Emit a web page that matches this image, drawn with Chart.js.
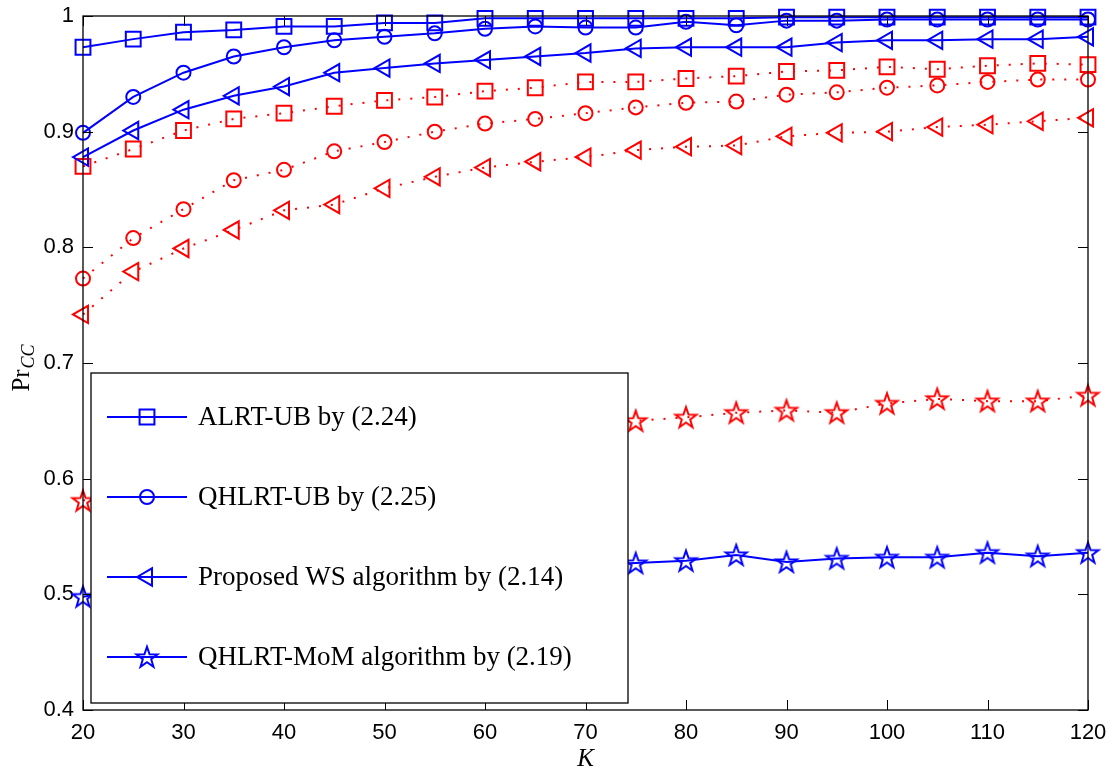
<!DOCTYPE html>
<html>
<head>
<meta charset="utf-8">
<script src="https://cdn.jsdelivr.net/npm/chart.js@4/dist/chart.umd.min.js"></script>
<style>
html, body { margin: 0; padding: 0; background: #fff; }
</style>
</head>
<body>
<canvas id="chart" width="1119" height="774"></canvas>
<script>
// K values and the eight curves
const K = [20, 25, 30, 35, 40, 45, 50, 55, 60, 65, 70, 75, 80, 85, 90, 95, 100, 105, 110, 115, 120];

const alrtUB     = [0.973, 0.980, 0.986, 0.988, 0.991, 0.991, 0.994, 0.994, 0.998, 0.998, 0.998, 0.998, 0.998, 0.998, 0.999, 0.999, 0.999, 0.999, 0.999, 0.999, 0.999];
const qhlrtUB    = [0.899, 0.930, 0.951, 0.965, 0.973, 0.979, 0.982, 0.985, 0.989, 0.991, 0.990, 0.990, 0.995, 0.992, 0.996, 0.996, 0.997, 0.997, 0.997, 0.997, 0.997];
const wsBlue     = [0.878, 0.901, 0.919, 0.931, 0.939, 0.951, 0.955, 0.959, 0.962, 0.965, 0.968, 0.972, 0.973, 0.973, 0.973, 0.977, 0.979, 0.979, 0.980, 0.980, 0.982];
const momBlue    = [0.498, 0.505, 0.510, 0.513, 0.516, 0.518, 0.520, 0.522, 0.523, 0.524, 0.525, 0.527, 0.529, 0.534, 0.528, 0.531, 0.532, 0.532, 0.536, 0.533, 0.536];

const alrtRed    = [0.870, 0.885, 0.901, 0.911, 0.916, 0.922, 0.927, 0.930, 0.935, 0.938, 0.943, 0.943, 0.946, 0.948, 0.952, 0.953, 0.956, 0.954, 0.957, 0.959, 0.958];
const qhlrtRed   = [0.773, 0.808, 0.833, 0.858, 0.867, 0.883, 0.891, 0.900, 0.907, 0.911, 0.916, 0.921, 0.925, 0.926, 0.932, 0.934, 0.938, 0.940, 0.943, 0.945, 0.945];
const wsRed      = [0.742, 0.779, 0.799, 0.815, 0.832, 0.837, 0.851, 0.861, 0.869, 0.874, 0.878, 0.884, 0.887, 0.888, 0.896, 0.899, 0.900, 0.904, 0.906, 0.909, 0.912];
const momRed     = [0.581, 0.595, 0.606, 0.615, 0.622, 0.628, 0.633, 0.637, 0.641, 0.644, 0.647, 0.650, 0.653, 0.657, 0.659, 0.657, 0.665, 0.669, 0.667, 0.667, 0.672];

const xTicks = [20, 30, 40, 50, 60, 70, 80, 90, 100, 110, 120];
const yTicks = [0.4, 0.5, 0.6, 0.7, 0.8, 0.9, 1];
const legendLabels = ['ALRT-UB by (2.24)', 'QHLRT-UB by (2.25)', 'Proposed WS algorithm by (2.14)', 'QHLRT-MoM algorithm by (2.19)'];

const BLUE = '#0000ff';
const RED = '#ff0000';

function makeStar(color, R) {
    const s = Math.ceil(R * 2 + 6);
    const cv = document.createElement('canvas');
    cv.width = s; cv.height = s;
    const c = cv.getContext('2d');
    c.translate(s / 2, s / 2 + R * 0.08);
    c.beginPath();
    for (let i = 0; i < 10; i++) {
        const rr = i % 2 ? R * 0.4 : R;
        const a = -Math.PI / 2 + i * Math.PI / 5;
        c.lineTo(rr * Math.cos(a), rr * Math.sin(a));
    }
    c.closePath();
    c.strokeStyle = color;
    c.lineWidth = 2;
    c.stroke();
    return cv;
}
const blueStar = makeStar(BLUE, 11);
const redStar = makeStar(RED, 11);

function pts(arr) {
    return K.map((k, i) => ({ x: k, y: arr[i] }));
}

function series(arr, color, style, solid, legend) {
    const ds = {
        data: pts(arr),
        borderColor: color,
        borderWidth: 2,
        pointStyle: style,
        pointRadius: style === 'rect' ? 10.5 : (style === 'circle' ? 7 : 10),
        pointRotation: style === 'triangle' ? -90 : 0,
        pointBorderColor: color,
        pointBackgroundColor: 'rgba(0,0,0,0)',
        pointBorderWidth: 2,
        tension: 0,
        clip: false,
        legendText: legend
    };
    if (!solid) ds.borderDash = [2, 10];
    return ds;
}

const datasets = [
    series(alrtUB, BLUE, 'rect', true, legendLabels[0]),
    series(qhlrtUB, BLUE, 'circle', true, legendLabels[1]),
    series(wsBlue, BLUE, 'triangle', true, legendLabels[2]),
    series(momBlue, BLUE, blueStar, true, legendLabels[3]),
    series(alrtRed, RED, 'rect', false),
    series(qhlrtRed, RED, 'circle', false),
    series(wsRed, RED, 'triangle', false),
    series(momRed, RED, redStar, false)
];

const framePlugin = {
    id: 'frame',
    afterDatasetsDraw(chart) {
        const ctx = chart.ctx;
        const ca = chart.chartArea;
        const xs = chart.scales.x, ys = chart.scales.y;
        ctx.save();
        // box
        ctx.strokeStyle = '#000';
        ctx.lineWidth = 1.3;
        ctx.strokeRect(ca.left, ca.top, ca.right - ca.left, ca.bottom - ca.top);
        // inward ticks
        ctx.lineWidth = 1;
        ctx.beginPath();
        xTicks.forEach(v => {
            const px = Math.round(xs.getPixelForValue(v)) + 0.5;
            ctx.moveTo(px, ca.bottom); ctx.lineTo(px, ca.bottom - 10);
            ctx.moveTo(px, ca.top); ctx.lineTo(px, ca.top + 10);
        });
        yTicks.forEach(v => {
            const py = Math.round(ys.getPixelForValue(v)) + 0.5;
            ctx.moveTo(ca.left, py); ctx.lineTo(ca.left + 10, py);
            ctx.moveTo(ca.right, py); ctx.lineTo(ca.right - 10, py);
        });
        ctx.stroke();

        // legend
        const lx = ca.left + 8, ly = 373, lw = 537, lh = 330;
        ctx.fillStyle = '#fff';
        ctx.fillRect(lx, ly, lw, lh);
        ctx.strokeStyle = '#000';
        ctx.lineWidth = 1.3;
        ctx.strokeRect(lx, ly, lw, lh);
        const rows = chart.data.datasets.filter(d => d.legendText);
        rows.forEach((d, i) => {
            const y = ly + 44 + i * 80;
            ctx.strokeStyle = d.borderColor;
            ctx.fillStyle = 'rgba(0,0,0,0)';
            ctx.lineWidth = 2;
            ctx.setLineDash([]);
            ctx.beginPath();
            ctx.moveTo(lx + 16, y); ctx.lineTo(lx + 96, y);
            ctx.stroke();
            Chart.helpers.drawPoint(ctx, {
                pointStyle: d.pointStyle,
                rotation: d.pointRotation,
                radius: d.pointRadius,
                borderWidth: 2
            }, lx + 56, y);
            ctx.fillStyle = '#000';
            ctx.font = '27px "Liberation Serif", serif';
            ctx.textBaseline = 'middle';
            ctx.textAlign = 'left';
            ctx.fillText(d.legendText, lx + 107, y + 1);
        });

        // axis titles
        ctx.fillStyle = '#000';
        ctx.font = 'italic 25px "Liberation Serif", serif';
        ctx.textAlign = 'center';
        ctx.textBaseline = 'alphabetic';
        ctx.fillText('K', (ca.left + ca.right) / 2, 766);

        ctx.translate(29, (ca.top + ca.bottom) / 2 + 5);
        ctx.rotate(-Math.PI / 2);
        ctx.font = '25px "Liberation Serif", serif';
        const w1 = ctx.measureText('Pr').width;
        ctx.font = 'italic 18px "Liberation Serif", serif';
        const w2 = ctx.measureText('CC').width;
        const start = -(w1 + w2 + 1) / 2;
        ctx.textAlign = 'left';
        ctx.font = '25px "Liberation Serif", serif';
        ctx.fillText('Pr', start, 0);
        ctx.font = 'italic 18px "Liberation Serif", serif';
        ctx.fillText('CC', start + w1 + 1, 5);
        ctx.restore();
    }
};

new Chart(document.getElementById('chart'), {
    type: 'line',
    data: { datasets: datasets },
    options: {
        responsive: false,
        animation: false,
        devicePixelRatio: 1,
        layout: { padding: { left: 0, right: 31, top: 16, bottom: 0 } },
        plugins: { legend: { display: false }, tooltip: { enabled: false } },
        scales: {
            x: {
                type: 'linear',
                min: 20,
                max: 120,
                afterBuildTicks: s => { s.ticks = xTicks.map(v => ({ value: v })); },
                afterFit: s => { s.height = 64; s.paddingLeft = 0; s.paddingRight = 0; },
                grid: { display: false },
                border: { display: false },
                ticks: {
                    color: '#000',
                    font: { family: '"Liberation Sans", Arial, sans-serif', size: 22 },
                    padding: 2,
                    maxRotation: 0
                }
            },
            y: {
                min: 0.4,
                max: 1,
                afterBuildTicks: s => { s.ticks = yTicks.map(v => ({ value: v })); },
                afterFit: s => { s.width = 83; s.paddingTop = 0; s.paddingBottom = 0; },
                grid: { display: false, drawTicks: false },
                border: { display: false },
                ticks: {
                    color: '#000',
                    font: { family: '"Liberation Sans", Arial, sans-serif', size: 22 },
                    padding: 9,
                    callback: v => (v === 1 ? '1' : v.toFixed(1))
                }
            }
        }
    },
    plugins: [framePlugin]
});
</script>
</body>
</html>
